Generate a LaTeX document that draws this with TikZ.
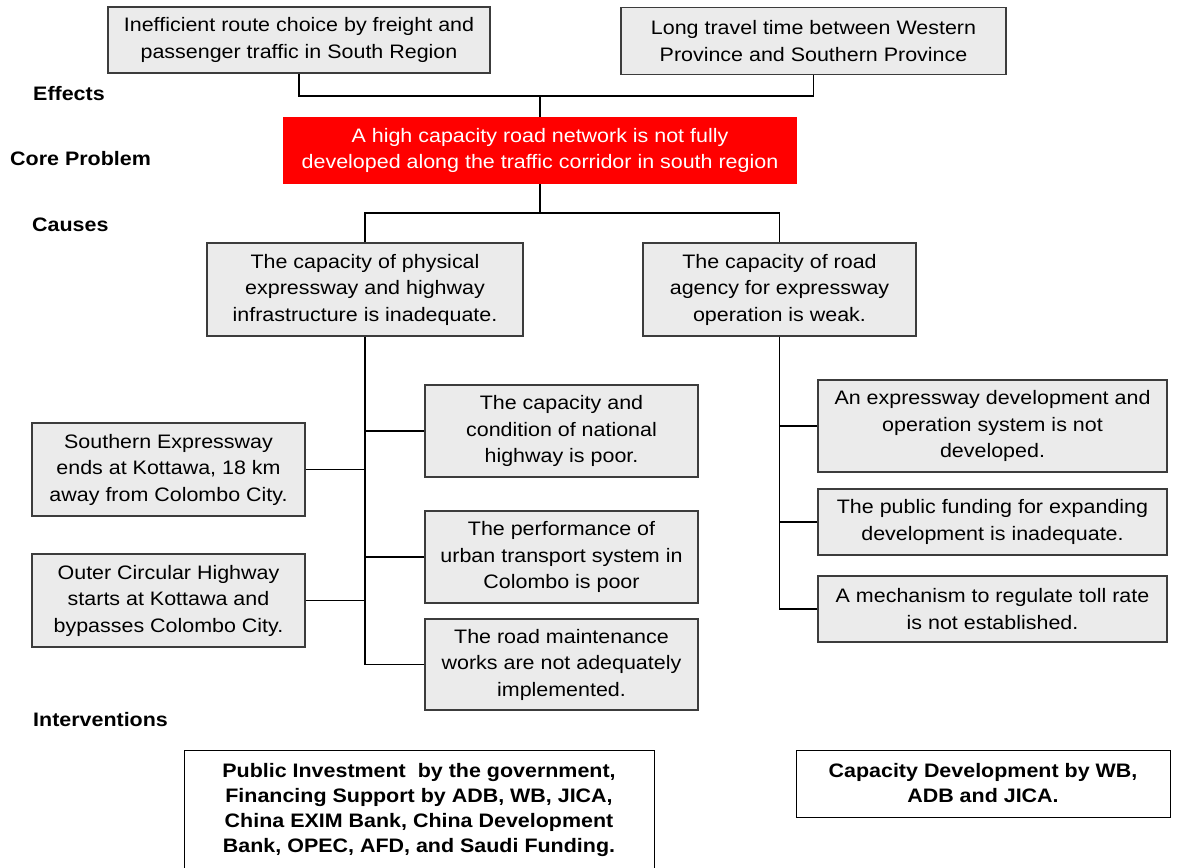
\documentclass[tikz,border=0pt]{standalone}
\usepackage{fontspec}
\setmainfont{Liberation Sans}[FakeStretch=1.1]
\usetikzlibrary{positioning}
\definecolor{boxgray}{RGB}{235,235,235}
\definecolor{edgegray}{RGB}{60,60,60}

\begin{document}
\begin{tikzpicture}[x=1pt,y=-1pt,every node/.style={align=center,inner sep=0pt,font=\fontsize{19.5}{26.5}\selectfont},box/.style={draw=edgegray,line width=1.3pt,fill=boxgray},core/.style={fill=red,text=white},lbl/.style={anchor=base west,font=\fontsize{19.5}{26.5}\selectfont\bfseries},intv/.style={draw=black,line width=1pt,fill=white},link/.style={draw=black,line width=1.3pt}]
\useasboundingbox (0,0) rectangle (1177,867);
\clip (0,0) rectangle (1177,867);
% row labels
\node[lbl] (leffects) at (33,100) {Effects};
\node[lbl] (lcore) at (10,165) {Core Problem};
\node[lbl] (lcauses) at (32,231) {Causes};
\node[lbl] (linterv) at (33,726) {Interventions};
% effects and core problem
\node[box,minimum width=382,minimum height=66] (eff1) at (299,40) {Inefficient route choice by freight and\\passenger traffic in South Region};
\node[box,minimum width=385,minimum height=67] (eff2) at (813.5,41) {Long travel time between Western\\Province and Southern Province};
\node[core,minimum width=514,minimum height=67] (coreprob) at (540,150.5) {A high capacity road network is not fully\\developed along the traffic corridor in south region};
% causes
\node[box,minimum width=316,minimum height=93] (cause1) at (365,289.5) {The capacity of physical\\expressway and highway\\infrastructure is inadequate.};
\node[box,minimum width=273,minimum height=93] (cause2) at (779.5,289.5) {The capacity of road\\agency for expressway\\operation is weak.};
\node[box,minimum width=273,minimum height=92] (hwpoor) at (561.5,431) {The capacity and\\condition of national\\highway is poor.};
\node[box,minimum width=273,minimum height=92] (urban) at (561.5,557) {The performance of\\urban transport system in\\Colombo is poor};
\node[box,minimum width=273,minimum height=91] (maint) at (561.5,664.5) {The road maintenance\\works are not adequately\\implemented.};
\node[box,minimum width=273,minimum height=93] (southexp) at (168.5,469.5) {Southern Expressway\\ends at Kottawa, 18 km\\away from Colombo City.};
\node[box,minimum width=273,minimum height=93] (outercirc) at (168.5,600.5) {Outer Circular Highway\\starts at Kottawa and\\bypasses Colombo City.};
\node[box,minimum width=349,minimum height=92] (expsys) at (992.5,426) {An expressway development and\\operation system is not\\developed.};
\node[box,minimum width=349,minimum height=66] (funding) at (992.5,522) {The public funding for expanding\\development is inadequate.};
\node[box,minimum width=349,minimum height=66] (tollrate) at (992.5,609) {A mechanism to regulate toll rate\\is not established.};
% interventions
\node[intv,minimum width=470,minimum height=120,font=\fontsize{19.5}{25}\selectfont\bfseries] (invest) at (419,810) {Public Investment~ by the government,\\Financing Support by ADB, WB, JICA,\\China EXIM Bank, China Development\\Bank, OPEC, AFD, and Saudi Funding.};
\node[intv,minimum width=374,minimum height=67,font=\fontsize{19.5}{25}\selectfont\bfseries] (capdev) at (983,783.5) {Capacity Development by WB,\\ADB and JICA.};
% connectors
\coordinate (ejoin) at (540,96);
\coordinate (cjoin) at (540,213);
\draw[link] (eff1.south) |- (ejoin) -| (eff2.south);
\draw[link] (ejoin) -- (coreprob.north);
\draw[link] (coreprob.south) -- (cjoin);
\draw[link] (cause1.north) |- (cjoin) -| (cause2.north);
\draw[link] (cause1.south) |- (maint.west);
\draw[link] (hwpoor.west) -- (hwpoor.west -| cause1.south);
\draw[link] (urban.west) -- (urban.west -| cause1.south);
\draw[link] (southexp.east) -- (southexp.east -| cause1.south);
\draw[link] (outercirc.east) -- (outercirc.east -| cause1.south);
\draw[link] (cause2.south) |- (tollrate.west);
\draw[link] (expsys.west) -- (expsys.west -| cause2.south);
\draw[link] (funding.west) -- (funding.west -| cause2.south);
\end{tikzpicture}
\end{document}
